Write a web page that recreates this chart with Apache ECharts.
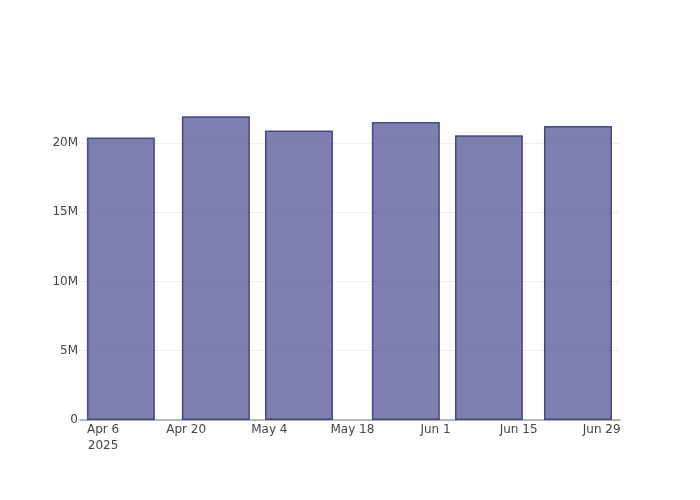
<!DOCTYPE html>
<html>
<head>
<meta charset="utf-8">
<script src="https://cdn.jsdelivr.net/npm/echarts@6/dist/echarts.min.js"></script>
<style>html,body{margin:0;padding:0;background:#fff}#c{width:700px;height:500px}</style>
</head>
<body>
<div id="c"></div>
<script>
var DAY = 86400000;
var barDates = ['2025-04-09', '2025-04-25', '2025-05-09', '2025-05-27', '2025-06-10', '2025-06-25'];
var barValues = [20390000, 21930000, 20900000, 21520000, 20560000, 21230000];
var tickDates = ['2025-04-06', '2025-04-20', '2025-05-04', '2025-05-18', '2025-06-01', '2025-06-15', '2025-06-29'];
var yTicks = [0, 5000000, 10000000, 15000000, 20000000];
var monthNames = ['Jan','Feb','Mar','Apr','May','Jun','Jul','Aug','Sep','Oct','Nov','Dec'];

function ts(s) { var p = s.split('-'); return Date.UTC(+p[0], +p[1] - 1, +p[2]); }

var tickTs = tickDates.map(ts);
var xMin = ts('2025-04-06') - 3.89 * DAY;
var xMax = ts('2025-04-06') + 87.08 * DAY;

var chart = echarts.init(document.getElementById('c'), null, {renderer: 'canvas'});
chart.setOption({
  animation: false,
  backgroundColor: '#fff',
  textStyle: {fontFamily: 'DejaVu Sans'},
  grid: {left: 80, right: 80, top: 100, bottom: 80},
  xAxis: {
    type: 'value',
    min: xMin,
    max: xMax,
    axisLine: {show: true, onZero: false, lineStyle: {color: '#a0a0a0', width: 1.5}},
    axisTick: {show: false},
    splitLine: {show: false},
    axisLabel: {
      customValues: tickTs,
      color: '#444',
      fontSize: 12,
      fontFamily: 'DejaVu Sans',
      margin: 2,
      lineHeight: 16,
      hideOverlap: false,
      formatter: function (v) {
        var d = new Date(v);
        var s = monthNames[d.getUTCMonth()] + ' ' + d.getUTCDate();
        if (v === tickTs[0]) s += '\n' + d.getUTCFullYear();
        return s;
      }
    }
  },
  yAxis: {
    type: 'value',
    min: 0,
    max: 23100000,
    interval: 5000000,
    axisLine: {show: false},
    axisTick: {show: false},
    splitLine: {show: true, showMaxLine: false, lineStyle: {color: '#eeeeee', width: 1}},
    axisLabel: {
      customValues: yTicks,
      color: '#444',
      fontSize: 12,
      fontFamily: 'DejaVu Sans',
      margin: 2,
      padding: [2, 0, 0, 0],
      formatter: function (v) { return v === 0 ? '0' : (v / 1e6) + 'M'; }
    }
  },
  series: [{
    type: 'bar',
    barWidth: 68,
    data: barDates.map(function (d, i) { return [ts(d), barValues[i]]; }),
    itemStyle: {
      color: 'rgba(72,72,141,0.7)',
      borderColor: 'rgba(60,60,130,0.9)',
      borderWidth: 1.5
    }
  }]
});
</script>
</body>
</html>
